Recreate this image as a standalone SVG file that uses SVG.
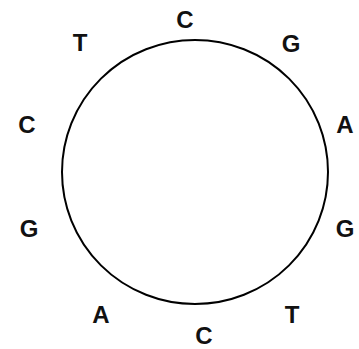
<svg xmlns="http://www.w3.org/2000/svg" width="359" height="349" viewBox="0 0 359 349">
<style>
.b{font-family:"Liberation Sans",Arial,sans-serif;font-weight:bold;font-size:24px;fill:#111;text-anchor:middle}
</style>
<rect width="359" height="349" fill="#fff"/>
<g id="connectors">
<ellipse cx="195" cy="172" rx="133" ry="132" fill="none" stroke="#000" stroke-width="2"/>
</g>
<g id="n1"><text class="b" x="185" y="28">C</text></g>
<g id="n2"><text class="b" x="291" y="52">G</text></g>
<g id="n3"><text class="b" x="345" y="133">A</text></g>
<g id="n4"><text class="b" x="345" y="237">G</text></g>
<g id="n5"><text class="b" x="292" y="323">T</text></g>
<g id="n6"><text class="b" x="204" y="344">C</text></g>
<g id="n7"><text class="b" x="101" y="323">A</text></g>
<g id="n8"><text class="b" x="29" y="237">G</text></g>
<g id="n9"><text class="b" x="27" y="133">C</text></g>
<g id="n10"><text class="b" x="80" y="51">T</text></g>
</svg>
